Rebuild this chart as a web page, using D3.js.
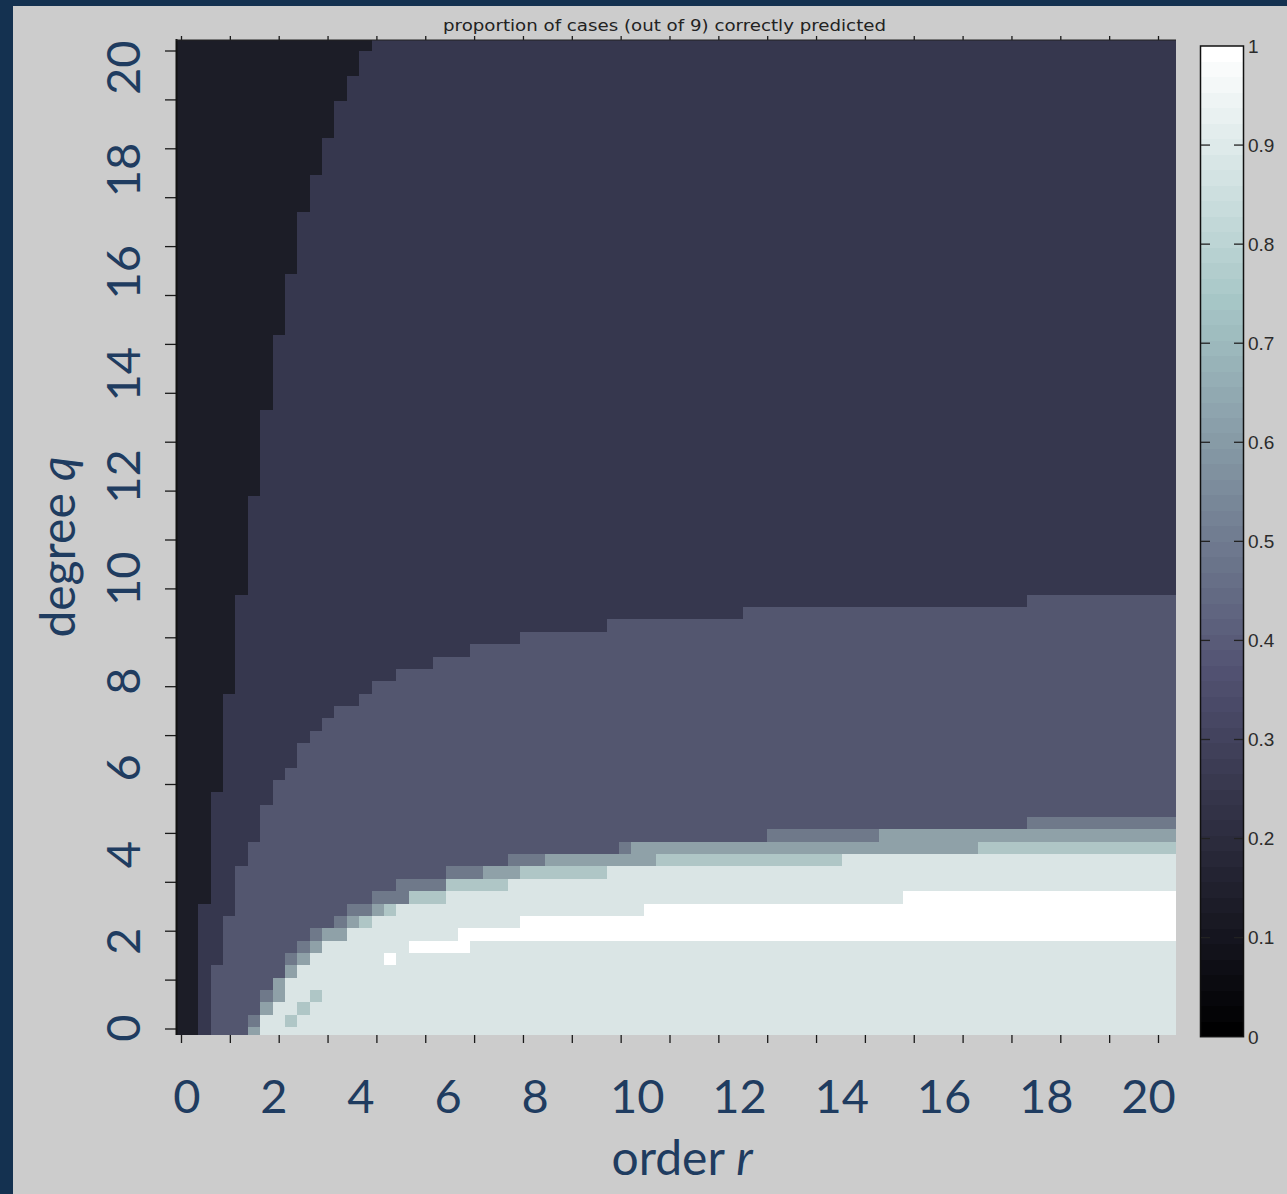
<!DOCTYPE html>
<html><head><meta charset="utf-8">
<script src="https://cdn.jsdelivr.net/npm/d3@7"></script>
<style>
html,body{margin:0;padding:0;background:#cccccc;}
svg{display:block;}
</style></head>
<body>
<svg id="chart" width="1287" height="1194"></svg>
<script>
// ---------------- DATA ----------------
// Cell values are counts k out of 9 cases correctly predicted (value = k/9).
// Grid: 81 columns (order r) x 81 rows (degree q), row 0 = bottom.

// number of darkest (1/9) cells from the left, per row (row 0 = bottom)
const darkCols = [
  2,2,2,2,2,2,2,2,2,2,2,
  3,3,3,3,3,3,3,3,3,
  4,4,4,4,4,4,4,4,
  5,5,5,5,5,5,5,5,
  6,6,6,6,6,6,6,6,
  7,7,7,7,7,7,7,
  8,8,8,8,8,8,
  9,9,9,9,9,
  10,10,10,10,10,
  11,11,11,
  12,12,12,
  13,13,13,
  14,14,
  15,15,
  16
];

// per column: number of rows (from bottom) holding 3/9 or more
const midRows = [
  0,0,0,6,10,14,16,19,21,22,24,25,26,27,27,28,29,29,
  30,30,30,
  31,31,31,
  32,32,32,32,
  33,33,33,33,33,33,33,
  34,34,34,34,34,34,34,34,34,34,34,
  35,35,35,35,35,35,35,35,35,35,35,35,35,35,35,35,35,35,35,35,35,35,35,
  36,36,36,36,36,36,36,36,36,36,36,36
];

// Lower rows 0..17: run-length lists [count k (out of 9), number of cells], left to right
const lowerRows = [
  [[1,2],[2,1],[3,3],[5,1],[8,74]],
  [[1,2],[2,1],[3,3],[4,1],[8,2],[7,1],[8,71]],
  [[1,2],[2,1],[3,4],[5,1],[8,2],[7,1],[8,70]],
  [[1,2],[2,1],[3,4],[4,1],[5,1],[8,2],[7,1],[8,69]],
  [[1,2],[2,1],[3,5],[5,1],[8,72]],
  [[1,2],[2,1],[3,6],[5,1],[8,71]],
  [[1,2],[2,2],[3,5],[4,1],[5,1],[8,6],[9,1],[8,63]],
  [[1,2],[2,2],[3,6],[4,1],[5,1],[8,7],[9,5],[8,57]],
  [[1,2],[2,2],[3,7],[4,1],[5,2],[8,9],[9,58]],
  [[1,2],[2,2],[3,9],[4,1],[5,1],[7,1],[8,12],[9,53]],
  [[1,2],[2,3],[3,9],[4,2],[5,1],[7,1],[8,20],[9,43]],
  [[1,3],[2,2],[3,11],[4,3],[7,3],[8,37],[9,22]],
  [[1,3],[2,2],[3,13],[4,4],[7,5],[8,54]],
  [[1,3],[2,2],[3,17],[4,3],[5,3],[7,7],[8,46]],
  [[1,3],[2,3],[3,21],[4,3],[5,9],[7,15],[8,27]],
  [[1,3],[2,3],[3,30],[4,1],[5,28],[7,16]],
  [[1,3],[2,4],[3,41],[4,9],[5,24]],
  [[1,3],[2,4],[3,62],[4,12]]
];

const caseCounts = [0,1,2,3,4,5,6,7,8,9];          // k out of 9
const tickValues = [0,1,2,3,4,5,6,7,8,9,10,11,12,13,14,15,16,17,18,19,20];
const labelValues = [0,2,4,6,8,10,12,14,16,18,20];
const colorbarTicks = [0,0.1,0.2,0.3,0.4,0.5,0.6,0.7,0.8,0.9,1];
const colorbarLabels = ["0","0.1","0.2","0.3","0.4","0.5","0.6","0.7","0.8","0.9","1"];

// palette for the cells per count (as they appear)
const countColors = ["#000000","#1c1d27","#36374e","#53566f","#6f798a","#8fa1a8","#9fb4b7","#afc6c6","#dae5e5","#ffffff"];

// ---------------- DRAWING ----------------
const W = 1287, H = 1194;
const svg = d3.select("#chart");
const frame = "#143150";
const labelColor = "#1f3c60";

svg.append("rect").attr("width", W).attr("height", H).attr("fill", "#cccccc");
svg.append("rect").attr("x", 0).attr("y", 0).attr("width", 13).attr("height", H).attr("fill", frame);
svg.append("rect").attr("x", 0).attr("y", 0).attr("width", W).attr("height", 6).attr("fill", frame);

const plot = {left: 177, right: 1176, top: 40, bottom: 1035};
const nCols = midRows.length, nRows = darkCols.length;

const colBand = d3.scaleBand().domain(d3.range(nCols)).range([173.6, 1175.6]);
const rowBand = d3.scaleBand().domain(d3.range(nRows)).range([1039.05, 38.7]);
const color = d3.scaleLinear().domain(caseCounts.map(k => k / 9)).range(countColors).interpolate(d3.interpolateRgb);

// build full rows
const rows = d3.range(nRows).map(i => {
  if (i < lowerRows.length) return lowerRows[i];
  const lv = d3.range(nCols).map(j => j < darkCols[i] ? 1 : (i < midRows[j] ? 3 : 2));
  const runs = [];
  lv.forEach(v => {
    if (runs.length && runs[runs.length - 1][0] === v) runs[runs.length - 1][1]++;
    else runs.push([v, 1]);
  });
  return runs;
});

const cells = [];
rows.forEach((runs, i) => {
  let start = 0;
  runs.forEach(([k, n]) => {
    cells.push({row: i, start, end: start + n - 1, k});
    start += n;
  });
});

svg.append("defs").append("clipPath").attr("id", "plotclip")
  .append("rect").attr("x", plot.left).attr("y", plot.top)
  .attr("width", plot.right - plot.left).attr("height", plot.bottom - plot.top);

const bw = colBand.bandwidth(), bh = rowBand.bandwidth();
svg.append("g").attr("clip-path", "url(#plotclip)").attr("shape-rendering", "crispEdges")
  .selectAll("rect").data(cells).join("rect")
  .attr("x", d => colBand(d.start))
  .attr("width", d => colBand(d.end) + bw - colBand(d.start))
  .attr("y", d => rowBand(d.row))
  .attr("height", bh + 0.3)
  .attr("fill", d => color(d.k / 9));

// axes (small unlabeled ticks)
const xTick = d3.scaleLinear().domain([0, 20]).range([181, 1158]);
const yTick = d3.scaleLinear().domain([0, 20]).range([1028.5, 50.5]);
const tickColor = "#1a1a1a";

svg.append("g").attr("transform", `translate(0,${plot.bottom})`)
  .call(d3.axisBottom(xTick).tickValues(tickValues).tickSize(8).tickFormat(""))
  .call(g => g.select(".domain").remove())
  .call(g => g.selectAll("line").attr("stroke", tickColor).attr("stroke-width", 1.3));
svg.append("g").attr("transform", `translate(0,${plot.top})`)
  .call(d3.axisTop(xTick).tickValues(tickValues).tickSize(4).tickFormat(""))
  .call(g => g.select(".domain").remove())
  .call(g => g.selectAll("line").attr("stroke", tickColor).attr("stroke-width", 1.3));
svg.append("g").attr("transform", `translate(${plot.left},0)`)
  .call(d3.axisLeft(yTick).tickValues(tickValues).tickSize(12).tickFormat(""))
  .call(g => g.select(".domain").remove())
  .call(g => g.selectAll("line").attr("stroke", tickColor).attr("stroke-width", 1.3));

svg.append("line").attr("x1", plot.left - 0.5).attr("x2", plot.left - 0.5)
  .attr("y1", plot.top - 1).attr("y2", plot.bottom).attr("stroke", "#111").attr("stroke-width", 2);
svg.append("line").attr("x1", plot.left - 1).attr("x2", plot.right)
  .attr("y1", plot.top).attr("y2", plot.top).attr("stroke", "#222").attr("stroke-width", 1);

// big axis labels (text boxes)
const xLabelPos = d3.scaleLinear().domain([0, 8, 20]).range([186.8, 535.1, 1148.6]);
const yLabelPos = d3.scaleLinear().domain([0, 8, 20]).range([1028, 681, 67.7]);
const bigFont = "Lato, 'Open Sans', sans-serif";

svg.append("g").selectAll("text").data(labelValues).join("text")
  .attr("x", d => xLabelPos(d)).attr("y", 1113)
  .attr("text-anchor", "middle").attr("font-family", bigFont).attr("font-size", 47)
  .attr("fill", labelColor).text(d => d);

svg.append("g").selectAll("text").data(labelValues).join("text")
  .attr("transform", d => `translate(140,${yLabelPos(d)}) rotate(-90)`)
  .attr("text-anchor", "middle").attr("font-family", bigFont).attr("font-size", 47)
  .attr("fill", labelColor).text(d => d);

const xt = svg.append("text").attr("x", 682).attr("y", 1175).attr("text-anchor", "middle")
  .attr("font-family", bigFont).attr("font-size", 48).attr("fill", labelColor);
xt.append("tspan").text("order ");
xt.append("tspan").attr("font-style", "italic").text("r");

const yt = svg.append("text").attr("transform", "translate(75,547) rotate(-90)").attr("text-anchor", "middle")
  .attr("font-family", bigFont).attr("font-size", 48).attr("fill", labelColor);
yt.append("tspan").text("degree ");
yt.append("tspan").attr("font-style", "italic").text("q");

// title
svg.append("text").attr("x", 664.5).attr("y", 30.5).attr("text-anchor", "middle")
  .attr("font-family", "'DejaVu Sans', sans-serif").attr("font-size", 16)
  .attr("textLength", 443).attr("lengthAdjust", "spacingAndGlyphs")
  .attr("fill", "#222").text("proportion of cases (out of 9) correctly predicted");

// colorbar: MATLAB-style "bone" colormap, 64 levels
function bone(idx) { // idx 1..64
  const m = 64, n = 24, g = (idx - 1) / (m - 1);
  const c = v => Math.max(0, Math.min(1, v));
  const hr = c(idx / n), hg = c((idx - n) / n), hb = c((idx - 2 * n) / (m - 2 * n));
  return d3.rgb(255 * (7 * g + hb) / 8, 255 * (7 * g + hg) / 8, 255 * (7 * g + hr) / 8);
}
const cb = {x: 1201, w: 42};
const cbScale = d3.scaleLinear().domain([0, 1]).range([1036.7, 46]);
const steps = d3.range(64);
svg.append("g").attr("shape-rendering", "crispEdges").selectAll("rect").data(steps).join("rect")
  .attr("x", cb.x).attr("width", cb.w)
  .attr("y", k => cbScale((k + 1) / 64))
  .attr("height", k => cbScale(k / 64) - cbScale((k + 1) / 64) + 0.5)
  .attr("fill", k => bone(k + 1));
svg.append("rect").attr("x", cb.x - 0.5).attr("y", cbScale(1)).attr("width", cb.w + 1)
  .attr("height", cbScale(0) - cbScale(1)).attr("fill", "none").attr("stroke", "#111").attr("stroke-width", 1.5);

const cbT = svg.append("g");
cbT.selectAll("line.l").data(colorbarTicks.slice(1, -1)).join("line").attr("class", "l")
  .attr("x1", cb.x).attr("x2", cb.x + 9).attr("y1", d => cbScale(d)).attr("y2", d => cbScale(d))
  .attr("stroke", "#222").attr("stroke-width", 1.3);
cbT.selectAll("line.r").data(colorbarTicks.slice(1, -1)).join("line").attr("class", "r")
  .attr("x1", cb.x + cb.w - 9).attr("x2", cb.x + cb.w).attr("y1", d => cbScale(d)).attr("y2", d => cbScale(d))
  .attr("stroke", "#222").attr("stroke-width", 1.3);
cbT.selectAll("text").data(colorbarTicks).join("text")
  .attr("x", 1248).attr("y", d => cbScale(d)).attr("dy", "0.36em")
  .attr("font-family", "'Liberation Sans', Arial, sans-serif").attr("font-size", 19)
  .attr("fill", "#2b2b2b").text((d, i) => colorbarLabels[i]);
</script>
</body></html>
